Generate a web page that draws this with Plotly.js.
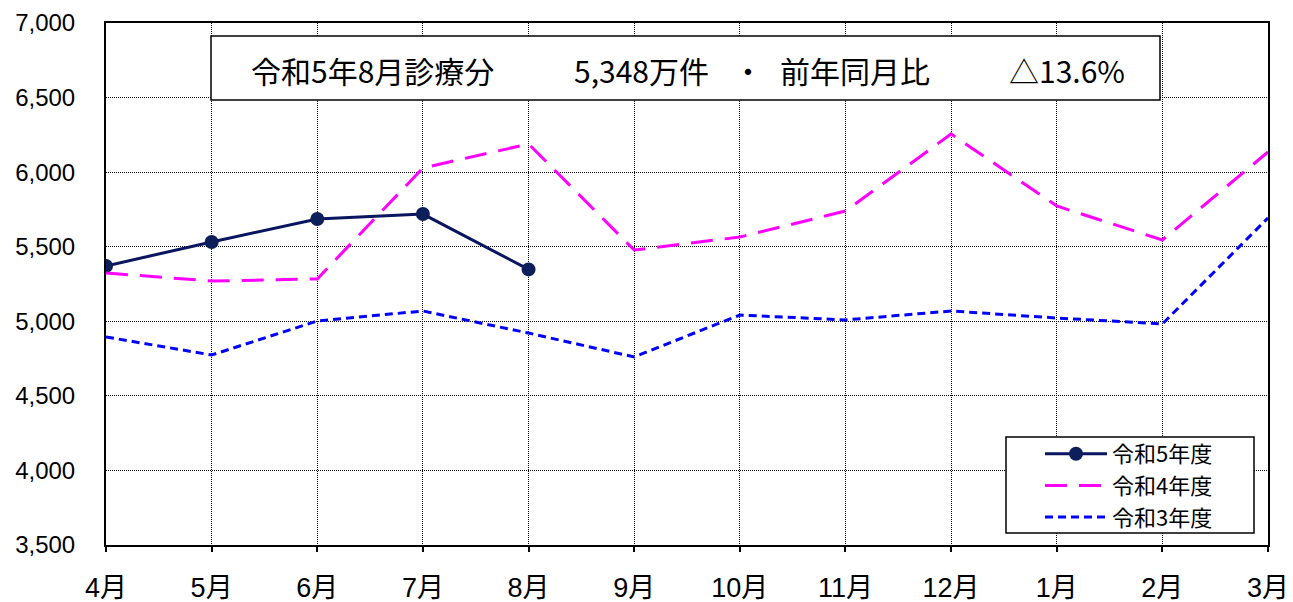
<!DOCTYPE html>
<html><head><meta charset="utf-8">
<script src="https://cdn.plot.ly/plotly-3.0.1.min.js"></script>
<style>html,body{margin:0;padding:0;background:#fff}#chart{width:1293px;height:602px}</style>
</head><body><div id="chart"></div>
<script>
const months = ['4月','5月','6月','7月','8月','9月','10月','11月','12月','1月','2月','3月'];
const r5 = [5371, 5532, 5686, 5719, 5348];
const r4 = [5324, 5270, 5284, 6028, 6189, 5478, 5565, 5739, 6256, 5773, 5545, 6135];
const r3 = [4895, 4774, 5002, 5069, 4921, 4761, 5042, 5009, 5069, 5022, 4982, 5693];
const yTicks = [3500, 4000, 4500, 5000, 5500, 6000, 6500, 7000];
const seriesNames = ['令和5年度', '令和4年度', '令和3年度'];
const headline = ['令和5年8月診療分', '5,348万件', '・', '前年同月比', '△13.6%'];

const W = 1293, H = 602, L = 106, R = 25, T = 23, B = 57;
const pw = W - L - R, ph = H - T - B;
const px = x => (x - L) / pw;
const py = y => (H - B - y) / ph;

const latin = '"Liberation Sans", Arial, "Noto Sans CJK JP", sans-serif';
const jp = '"Noto Sans CJK JP", sans-serif';
const traces = [
  {x: months.slice(0, r5.length), y: r5, name: seriesNames[0], type: 'scatter', mode: 'lines+markers',
   line: {color: '#0a1560', width: 3}, marker: {color: '#0d1f5a', size: 14}},
  {x: months, y: r4, name: seriesNames[1], type: 'scatter', mode: 'lines',
   line: {color: '#ff00ff', width: 3, dash: '22px,12px'}},
  {x: months, y: r3, name: seriesNames[2], type: 'scatter', mode: 'lines',
   line: {color: '#0000ff', width: 3, dash: '8px,5px'}}
];

const centers = [372, 641, 748, 855, 1067];
const annotations = headline.map((t, i) => ({
  text: t, xref: 'paper', yref: 'paper', x: px(centers[i]), y: py(70),
  xanchor: 'center', yanchor: 'middle', showarrow: false,
  font: {family: jp, size: 30, color: '#000'}
}));

const layout = {
  width: W, height: H,
  margin: {l: L, r: R, t: T, b: B},
  paper_bgcolor: '#fff', plot_bgcolor: '#fff',
  showlegend: true,
  legend: {x: px(1040), y: py(433), xanchor: 'left', yanchor: 'top',
    bgcolor: 'rgba(0,0,0,0)', borderwidth: 0,
    font: {family: jp, size: 22, color: '#000'},
    itemwidth: 62, tracegroupgap: 0},
  xaxis: {type: 'category', range: [0, months.length - 1], categoryorder: 'array', categoryarray: months,
    showline: true, linecolor: '#000', linewidth: 2, mirror: true,
    showgrid: true, gridcolor: '#000', griddash: '1px,1px', gridwidth: 1,
    ticks: 'outside', ticklen: 5, tickcolor: '#000', tickwidth: 2,
    tickfont: {family: latin, size: 27, color: '#000'},
    ticklabelstandoff: 13, zeroline: false, fixedrange: true},
  yaxis: {range: [3500, 7000], tickvals: yTicks, ticktext: yTicks.map(v => v.toLocaleString('en-US')),
    showline: true, linecolor: '#000', linewidth: 2, mirror: true,
    showgrid: true, gridcolor: '#000', griddash: '1px,1px', gridwidth: 1,
    ticks: '', tickfont: {family: latin, size: 24, color: '#000'},
    ticklabelstandoff: 24, zeroline: false, fixedrange: true},
  shapes: [
    {type: 'rect', xref: 'paper', yref: 'paper', x0: px(211), x1: px(1160), y0: py(100), y1: py(36),
     fillcolor: '#fff', line: {color: '#000', width: 1.5}, layer: 'above'},
    {type: 'rect', xref: 'paper', yref: 'paper', x0: px(1006), x1: px(1254), y0: py(533), y1: py(437),
     fillcolor: '#fff', line: {color: '#000', width: 1.5}, layer: 'above'}
  ],
  annotations: annotations
};
Plotly.newPlot('chart', traces, layout, {displayModeBar: false, staticPlot: true});
</script></body></html>
